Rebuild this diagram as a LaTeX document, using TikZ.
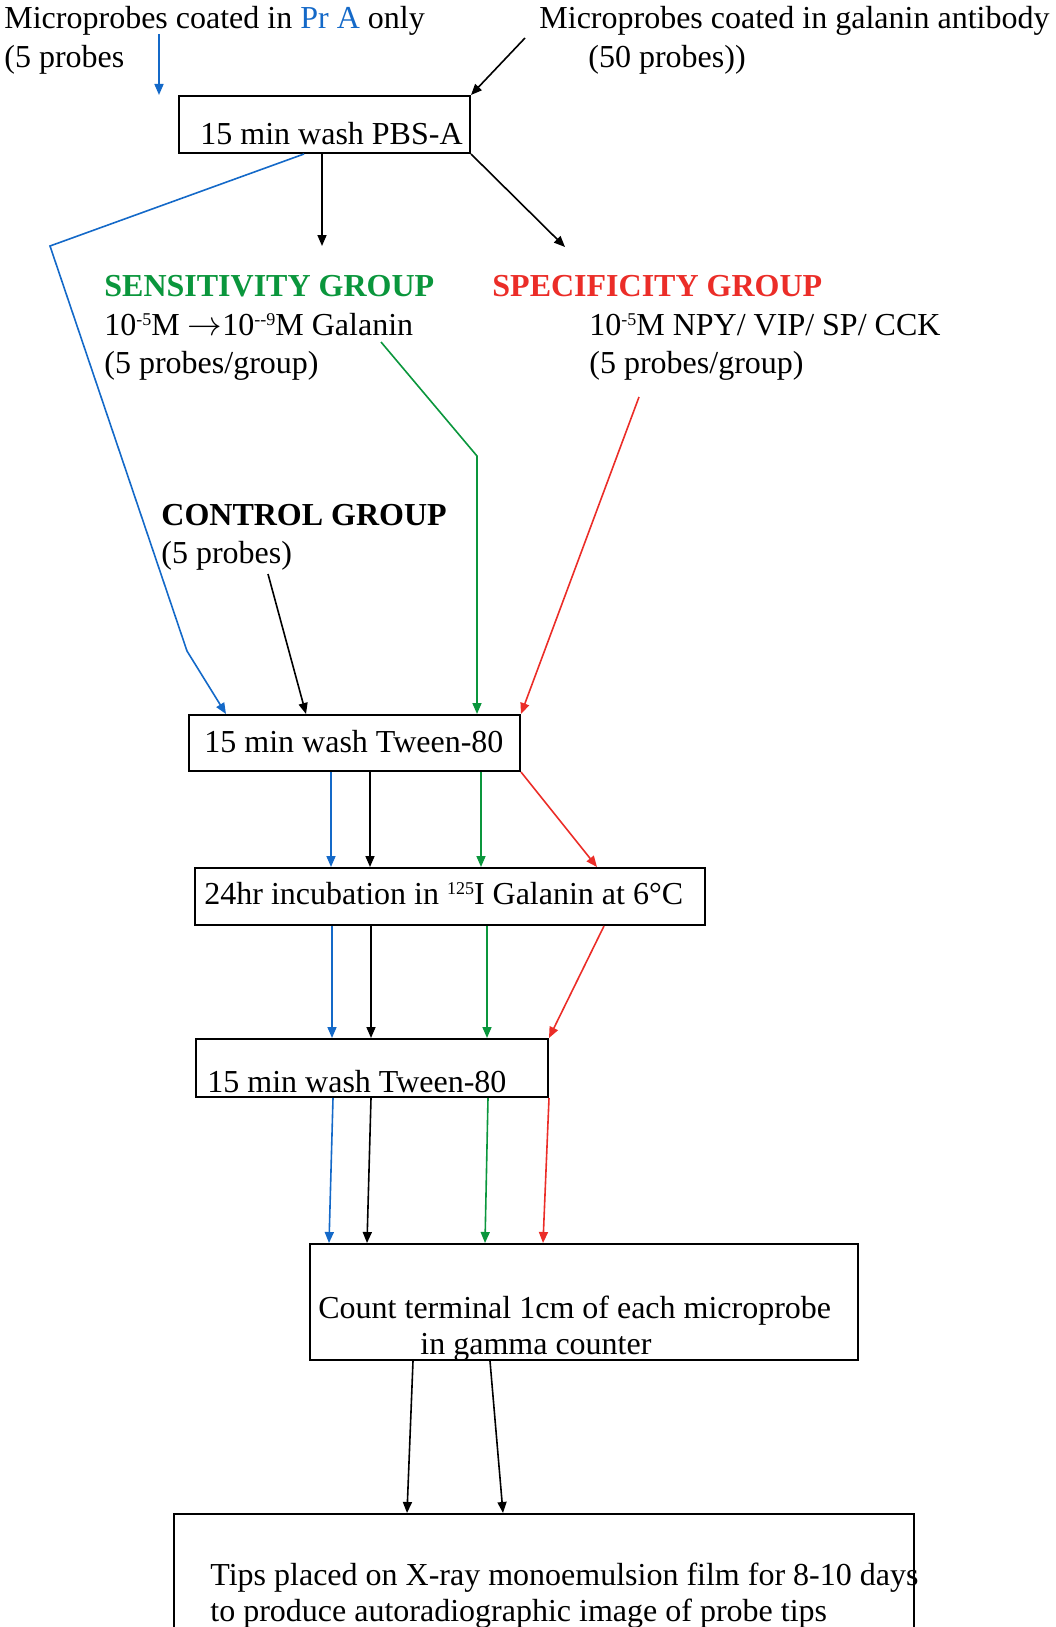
\documentclass[tikz,border=0pt]{standalone}
\usepackage{fontspec}
\setmainfont{Liberation Serif}
\usetikzlibrary{arrows.meta,calc}
\definecolor{pblue}{RGB}{20,105,200}
\definecolor{pgreen}{RGB}{10,150,60}
\definecolor{pred}{RGB}{235,45,40}
% small raised figures for exponents and isotope numbers
\newcommand\upfig[1]{\raisebox{4.6pt}{\fontsize{9pt}{9pt}\selectfont #1}}

\begin{document}
\begin{tikzpicture}[x=0.5pt,y=-0.5pt,
  txt/.style={inner sep=0pt, anchor=base west, font=\fontsize{16pt}{19pt}\selectfont},
  head/.style={txt, font=\fontsize{16pt}{19pt}\selectfont\bfseries},
  stepbox/.style={draw, line width=1pt, inner sep=0pt, anchor=north west},
  conn/.style={line width=0.8pt, -{Triangle[length=5.5pt,width=4.5pt]}},
]
\useasboundingbox (0,0) rectangle (1055,1627);
\clip (0,0) rectangle (1055,1627);

% ---- sources ----
\node[txt] (t1a) at (4,29) {Microprobes coated in \textcolor{pblue}{Pr A} only};
\node[txt] (t1b) at (4,68) {(5 probes};
\node[txt] (t2a) at (539,29) {Microprobes coated in galanin antibody};
\node[txt] (t2b) at (588,68) {(50 probes))};

% ---- process boxes ----
\node[stepbox, minimum width=145.5pt, minimum height=28.5pt] (box1) at (178,95) {};
\node[txt] (b1t) at (200,145) {15 min wash PBS-A};

\node[stepbox, minimum width=165.5pt, minimum height=28pt] (box2) at (188,714) {};
\node[txt] (b2t) at (204,752) {15 min wash Tween-80};

\node[stepbox, minimum width=255pt, minimum height=28.5pt] (box3) at (194,867) {};
\node[txt] (b3t) at (204,904) {24hr incubation in \upfig{125}I Galanin at 6°C};

\node[stepbox, minimum width=176pt, minimum height=29pt] (box4) at (195,1038) {};
\node[txt] (b4t) at (207,1092) {15 min wash Tween-80};

\node[stepbox, minimum width=274pt, minimum height=58pt] (box5) at (309,1243) {};
\node[txt] (b5a) at (318,1318) {Count terminal 1cm of each microprobe};
\node[txt] (b5b) at (420,1354) {in gamma counter};

\node[stepbox, minimum width=370pt, minimum height=66pt] (box6) at (173,1513) {};
\node[txt] (b6a) at (210,1585) {Tips placed on X-ray monoemulsion film for 8-10 days};
\node[txt] (b6b) at (210,1621) {to produce autoradiographic image of probe tips};

% ---- groups ----
\node[head, text=pgreen] (sens) at (104,296) {SENSITIVITY GROUP};
\node[txt] (sens2) at (104,335) {10\upfig{-5}M $\rightarrow$10\upfig{-{}-9}M Galanin};
\node[txt] (sens3) at (104,373) {(5 probes/group)};

\node[head, text=pred] (spec) at (492,296) {SPECIFICITY GROUP};
\node[txt] (spec2) at (589,335) {10\upfig{-5}M NPY/ VIP/ SP/ CCK};
\node[txt] (spec3) at (589,373) {(5 probes/group)};

\node[head] (ctrl) at (161,525) {CONTROL GROUP};
\node[txt] (ctrl2) at (161,563) {(5 probes)};

% ---- connector end points ----
\coordinate (t1Start) at ($(t1a.base -| 159,0)+(0,5)$);
\coordinate (t2Start) at (525,38);
\coordinate (bendA) at (50,246);
\coordinate (bendB) at (187,651);
\coordinate (sensIn) at (322,246);
\coordinate (specIn) at (565,247);
\coordinate (gStart) at (381,342);
\coordinate (gBend) at (477,456);
\coordinate (rStart) at (639,397);
\coordinate (cStart) at (268,574);

% ---- connectors ----
\draw[conn, pblue] (t1Start) -- (box1.north -| 159,0);
\draw[conn] (t2Start) -- (box1.north east);
\draw[conn, pblue] (box1.south -| 304,0) -- (bendA) -- (bendB) -- (box2.north -| 226,0);
\draw[conn] (box1.south -| 322,0) -- (sensIn);
\draw[conn] (box1.south east) -- (specIn);
\draw[conn, pgreen] (gStart) -- (gBend) -- (box2.north -| 477,0);
\draw[conn, pred] (rStart) -- (box2.north east);
\draw[conn] (cStart) -- (box2.north -| 306,0);

\draw[conn, pblue] (box2.south -| 331,0) -- (box3.north -| 331,0);
\draw[conn] (box2.south -| 370,0) -- (box3.north -| 370,0);
\draw[conn, pgreen] (box2.south -| 481,0) -- (box3.north -| 481,0);
\draw[conn, pred] (box2.south east) -- (box3.north -| 597,0);

\draw[conn, pblue] (box3.south -| 332,0) -- (box4.north -| 332,0);
\draw[conn] (box3.south -| 371,0) -- (box4.north -| 371,0);
\draw[conn, pgreen] (box3.south -| 487,0) -- (box4.north -| 487,0);
\draw[conn, pred] (box3.south -| 604,0) -- (box4.north east);

\draw[conn, pblue] (box4.south -| 333,0) -- (box5.north -| 329,0);
\draw[conn] (box4.south -| 371,0) -- (box5.north -| 367,0);
\draw[conn, pgreen] (box4.south -| 488,0) -- (box5.north -| 485,0);
\draw[conn, pred] (box4.south east) -- (box5.north -| 543,0);

\draw[conn] (box5.south -| 413,0) -- (box6.north -| 407,0);
\draw[conn] (box5.south -| 490,0) -- (box6.north -| 503,0);
\end{tikzpicture}
\end{document}
